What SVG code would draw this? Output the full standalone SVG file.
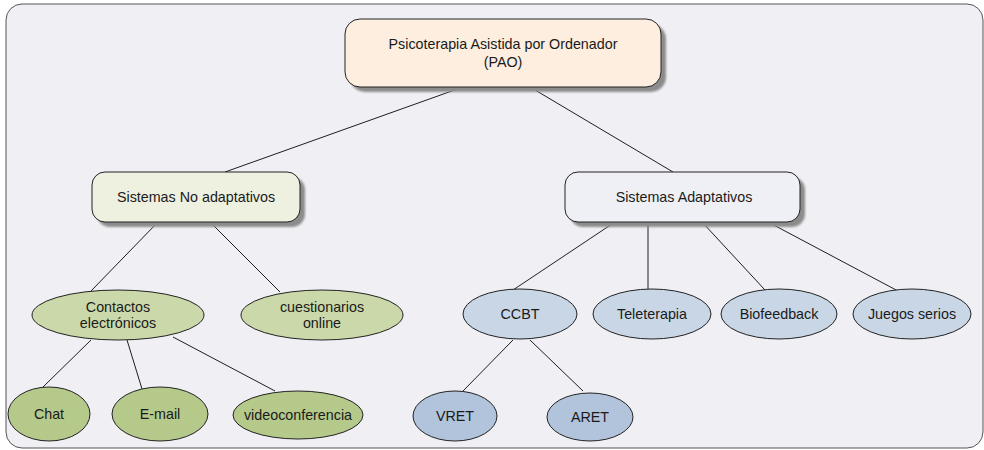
<svg xmlns="http://www.w3.org/2000/svg" width="984" height="450" viewBox="0 0 984 450">
  <defs>
    <style>
      text { font-family: "Liberation Sans", Arial, sans-serif; font-size: 14.3px; fill: #1a1a1a; text-anchor: middle; }
      .edge { stroke: #1e1e1e; stroke-width: 1; fill: none; }
      .box { stroke: #222; stroke-width: 1; }
      .shadow { fill: #8c8c8c; filter: url(#soft); }
      .ell { stroke: #222; stroke-width: 1; }
      .g1 { fill: #cbd9aa; }
      .g2 { fill: #b5c98b; }
      .b1 { fill: #c9d6e5; }
      .b2 { fill: #b1c4db; }
    </style>
    <filter id="soft" x="-10%" y="-10%" width="120%" height="130%">
      <feGaussianBlur stdDeviation="0.8"/>
    </filter>
  </defs>

  <!-- canvas frame -->
  <rect x="0" y="0" width="984" height="450" fill="#ffffff"/>
  <rect x="6" y="4" width="977" height="444" rx="16" ry="16" fill="#f0eff4" stroke="#555" stroke-width="1"/>

  <!-- connectors -->
  <g id="connectors">
    <line class="edge" x1="463" y1="87" x2="225" y2="172"/>
    <line class="edge" x1="530" y1="87" x2="673" y2="172"/>
    <line class="edge" x1="158" y1="222" x2="91" y2="291"/>
    <line class="edge" x1="210" y1="222" x2="280" y2="292"/>
    <line class="edge" x1="615" y1="222" x2="513" y2="290"/>
    <line class="edge" x1="648" y1="222" x2="648" y2="289"/>
    <line class="edge" x1="702" y1="222" x2="765" y2="290"/>
    <line class="edge" x1="768" y1="222" x2="898" y2="291"/>
    <line class="edge" x1="91" y1="340" x2="43" y2="387"/>
    <line class="edge" x1="127" y1="340" x2="142" y2="389"/>
    <line class="edge" x1="173" y1="337" x2="275" y2="391"/>
    <line class="edge" x1="513" y1="340" x2="463" y2="391"/>
    <line class="edge" x1="530" y1="340" x2="583" y2="391"/>
  </g>

  <!-- root -->
  <g id="pao">
    <rect class="shadow" x="350" y="24" width="316" height="68" rx="15"/>
    <rect class="box" x="345" y="19" width="316" height="68" rx="15" fill="#fdeedf"/>
    <text x="503" y="49">Psicoterapia Asistida por Ordenador</text>
    <text x="503" y="67">(PAO)</text>
  </g>

  <!-- second level -->
  <g id="no-adaptativos">
    <rect class="shadow" x="97" y="177" width="208" height="50" rx="13"/>
    <rect class="box" x="92" y="172" width="208" height="50" rx="13" fill="#eef0e0"/>
    <text x="196" y="202">Sistemas No adaptativos</text>
  </g>
  <g id="adaptativos">
    <rect class="shadow" x="570" y="177" width="235" height="50" rx="13"/>
    <rect class="box" x="565" y="172" width="235" height="50" rx="13" fill="#eef0f5"/>
    <text x="684" y="202">Sistemas Adaptativos</text>
  </g>

  <!-- third level -->
  <g id="contactos">
    <ellipse class="ell g1" cx="118" cy="315" rx="86" ry="25"/>
    <text x="118" y="312">Contactos</text>
    <text x="118" y="328">electrónicos</text>
  </g>
  <g id="cuestionarios">
    <ellipse class="ell g1" cx="322" cy="315" rx="81" ry="25"/>
    <text x="322" y="312">cuestionarios</text>
    <text x="322" y="328">online</text>
  </g>
  <g id="ccbt">
    <ellipse class="ell b1" cx="520" cy="314" rx="57" ry="25"/>
    <text x="520" y="319">CCBT</text>
  </g>
  <g id="teleterapia">
    <ellipse class="ell b1" cx="652" cy="314" rx="59" ry="25"/>
    <text x="652" y="319">Teleterapia</text>
  </g>
  <g id="biofeedback">
    <ellipse class="ell b1" cx="779" cy="314" rx="58" ry="25"/>
    <text x="779" y="319">Biofeedback</text>
  </g>
  <g id="juegos">
    <ellipse class="ell b1" cx="912" cy="314" rx="59" ry="25"/>
    <text x="912" y="319">Juegos serios</text>
  </g>

  <!-- leaves -->
  <g id="chat">
    <ellipse class="ell g2" cx="49" cy="414" rx="41" ry="27"/>
    <text x="49" y="419">Chat</text>
  </g>
  <g id="email">
    <ellipse class="ell g2" cx="160" cy="414" rx="48" ry="27"/>
    <text x="160" y="419">E-mail</text>
  </g>
  <g id="videoconferencia">
    <ellipse class="ell g2" cx="298" cy="415" rx="65" ry="24"/>
    <text x="298" y="420">videoconferencia</text>
  </g>
  <g id="vret">
    <ellipse class="ell b2" cx="455" cy="416" rx="42" ry="25"/>
    <text x="455" y="421">VRET</text>
  </g>
  <g id="aret">
    <ellipse class="ell b2" cx="590" cy="417" rx="43" ry="24"/>
    <text x="590" y="422">ARET</text>
  </g>
</svg>
